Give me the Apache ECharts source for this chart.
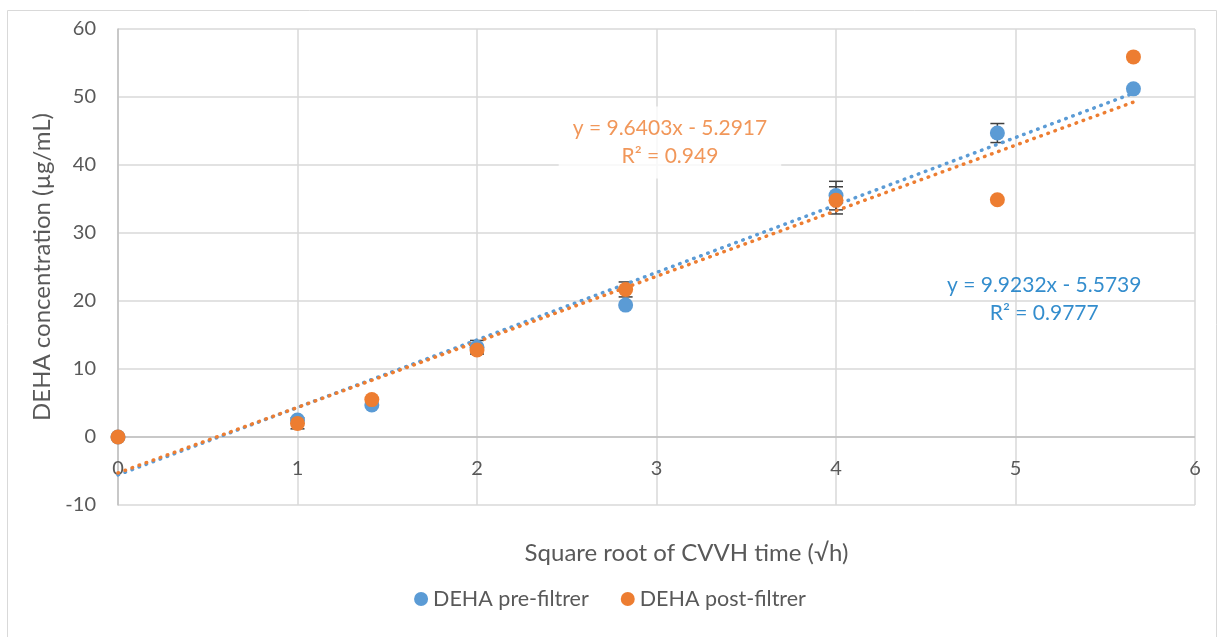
<!DOCTYPE html>
<html><head><meta charset="utf-8">
<script src="https://cdn.jsdelivr.net/npm/echarts@6/dist/echarts.min.js"></script>
<style>html,body{margin:0;padding:0;background:#fff}#c{width:1220px;height:637px}</style>
</head><body><div id="c"></div>
<script>
const xValues = [0, 1, 1.414, 2, 2.828, 4, 4.899, 5.657];
const preValues = [0, 2.5, 4.7, 13.2, 19.4, 35.5, 44.7, 51.2];
const postValues = [0, 2.0, 5.5, 12.8, 21.7, 34.8, 34.9, 55.9];
const preErrors = [0, 0, 0, 1.0, 0, 2.1, 1.4, 0];
const postErrors = [0, 0.8, 0, 0, 1.1, 2.0, 0, 0];
const preTrend = {slope: 9.9232, intercept: -5.5739, r2: '0.9777'};
const postTrend = {slope: 9.6403, intercept: -5.2917, r2: '0.949'};
const seriesNames = ['DEHA pre-filtrer', 'DEHA post-filtrer'];
const xTicks = [0, 1, 2, 3, 4, 5, 6];
const yTicks = [-10, 0, 10, 20, 30, 40, 50, 60];

const BLUE = '#5B9BD5', ORANGE = '#ED7D31', TXT = '#595959';
const FONT = 'Lato, "Open Sans", sans-serif';

function trendPts(t){
  const x0 = xValues[0], x1 = xValues[xValues.length-1];
  return [[x0, t.slope*x0 + t.intercept], [x1, t.slope*x1 + t.intercept]];
}
function errData(vals, errs){
  return xValues.map((x,i)=>[x, vals[i]-errs[i], vals[i]+errs[i], errs[i]]);
}
function errSeries(vals, errs){
  return {
    type:'custom', z:2, silent:true,
    data: errData(vals, errs),
    renderItem(params, api){
      if (api.value(3) <= 0) return null;
      const lo = api.coord([api.value(0), api.value(1)]);
      const hi = api.coord([api.value(0), api.value(2)]);
      const w = 7;
      const st = {stroke:'#404040', lineWidth:1.5};
      return {type:'group', children:[
        {type:'line', shape:{x1:lo[0],y1:lo[1],x2:hi[0],y2:hi[1]}, style:st},
        {type:'line', shape:{x1:lo[0]-w,y1:lo[1],x2:lo[0]+w,y2:lo[1]}, style:st},
        {type:'line', shape:{x1:hi[0]-w,y1:hi[1],x2:hi[0]+w,y2:hi[1]}, style:st}
      ]};
    }
  };
}
function eqText(t){
  return 'y = ' + t.slope.toFixed(4) + 'x - ' + Math.abs(t.intercept).toFixed(4);
}

const chart = echarts.init(document.getElementById('c'));
chart.setOption({
  animation:false,
  textStyle:{fontFamily:FONT},
  graphic:[{type:'rect', shape:{x:7.5,y:10.5,width:1209,height:640}, style:{fill:'none', stroke:'#d9d9d9', lineWidth:1}, silent:true, z:-10}],
  grid:{left:118, right:25, top:29, bottom:132, containLabel:false, outerBoundsMode:'none'},
  legend:{
    bottom:22, left:'center', itemGap:32, itemWidth:14, itemHeight:14,
    textStyle:{color:TXT, fontSize:21.5, fontFamily:FONT},
    data:[{name:seriesNames[0], icon:'circle'},{name:seriesNames[1], icon:'circle'}]
  },
  xAxis:{
    type:'value', min:xTicks[0], max:xTicks[xTicks.length-1], interval:1,
    name:'Square root of CVVH time (√h)', nameLocation:'middle', nameGap:36,
    nameTextStyle:{color:TXT, fontSize:24, padding:[0,0,0,60]},
    axisLine:{show:false, onZero:false},
    axisTick:{show:false},
    axisLabel:{color:TXT, fontSize:20, margin:-46},
    splitLine:{show:true, lineStyle:{color:'#d9d9d9', width:1.5}}
  },
  yAxis:{
    type:'value', min:yTicks[0], max:yTicks[yTicks.length-1], interval:10,
    name:'DEHA concentration (µg/mL)', nameLocation:'middle', nameGap:61,
    nameTextStyle:{color:TXT, fontSize:24},
    axisLine:{show:true, onZero:false, lineStyle:{color:'#bfbfbf', width:1.5}},
    axisTick:{show:false},
    axisLabel:{color:TXT, fontSize:20, margin:22},
    splitLine:{show:true, lineStyle:{color:'#d9d9d9', width:1.5}}
  },
  series:[
    {type:'line', name:'trend-pre', data:trendPts(preTrend), showSymbol:false, symbol:'none', z:3, silent:true,
     lineStyle:{color:BLUE, width:3.5, type:[0.5,7], cap:'round'},
     markLine:{silent:true, symbol:'none', label:{show:false}, z:1,
       lineStyle:{color:'#bfbfbf', width:1.5, type:'solid'}, data:[{yAxis:0}]}},
    {type:'line', name:'trend-post', data:trendPts(postTrend), showSymbol:false, symbol:'none', z:3, silent:true,
     lineStyle:{color:ORANGE, width:3.5, type:[0.5,7], cap:'round'}},
    errSeries(preValues, preErrors),
    errSeries(postValues, postErrors),
    {type:'scatter', name:seriesNames[0], z:4, symbolSize:15, itemStyle:{color:BLUE, opacity:1},
     data:xValues.map((x,i)=>[x, preValues[i]])},
    {type:'scatter', name:seriesNames[1], z:5, symbolSize:15, itemStyle:{color:ORANGE, opacity:1},
     data:xValues.map((x,i)=>[x, postValues[i]])},
    {type:'scatter', z:6, silent:true, symbolSize:0, data:[[3.075, 43.3]],
     label:{show:true, position:'inside', formatter:eqText(postTrend)+'\nR² = '+postTrend.r2,
       color:ORANGE, fontSize:21, lineHeight:28, align:'center', backgroundColor:'#fff', padding:[8,14,8,14]}},
    {type:'scatter', z:6, silent:true, symbolSize:0, data:[[5.16, 20.3]],
     label:{show:true, position:'inside', formatter:eqText(preTrend)+'\nR² = '+preTrend.r2,
       color:'#0070C0', fontSize:21, lineHeight:28, align:'center'}}
  ]
});
</script></body></html>
